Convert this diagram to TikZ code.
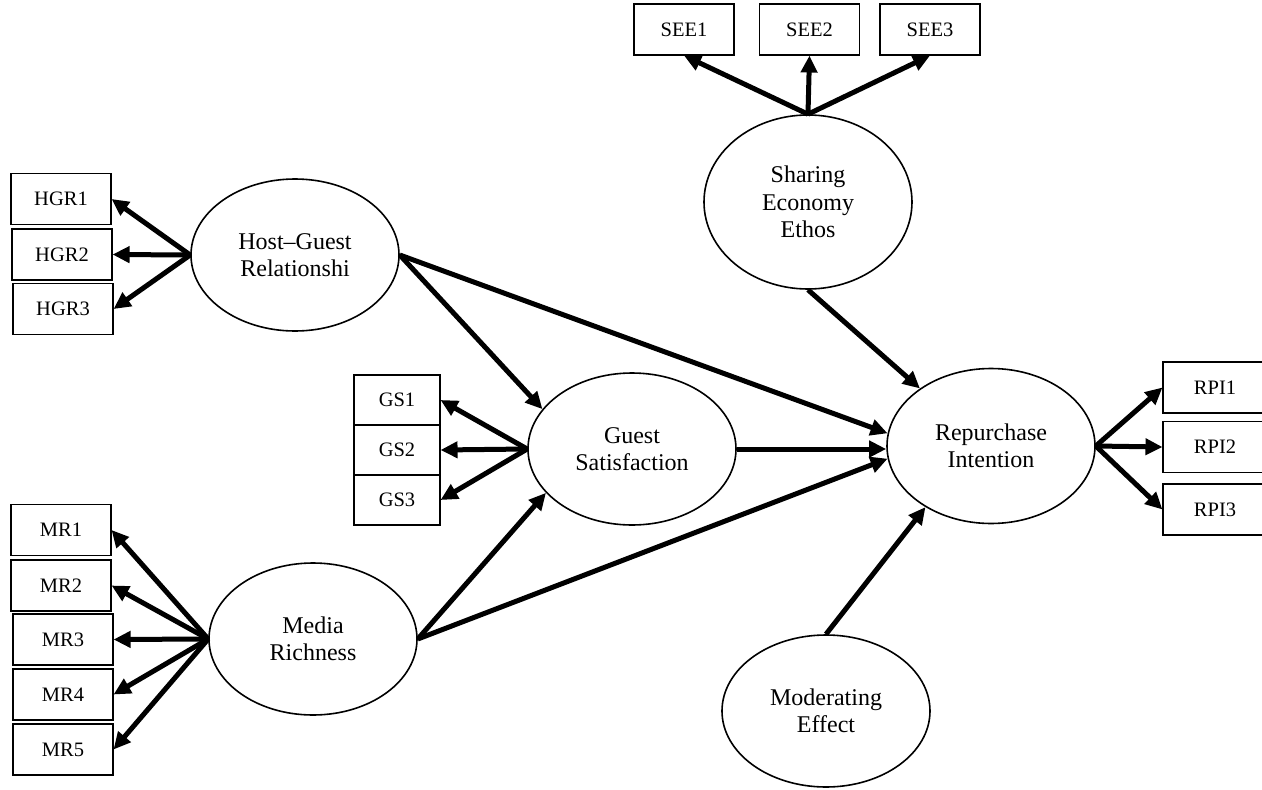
\documentclass[tikz,border=0pt]{standalone}
\usepackage{fontspec}
\setmainfont{Liberation Serif}
\usetikzlibrary{shapes.geometric,arrows.meta}

\begin{document}
\begin{tikzpicture}[x=1pt,y=-1pt,
        latent/.style={draw, ellipse, line width=1.6pt, minimum width=208pt, minimum height=152pt,
            inner sep=0pt, align=center, font=\fontsize{24}{27.5}\selectfont},
        indicator/.style={draw, rectangle, line width=1.1pt, minimum width=100pt, minimum height=51pt,
            inner sep=0pt, font=\fontsize{20.5}{24}\selectfont},
        effect/.style={line width=5pt, -{Triangle[length=17pt,width=16pt]}}]

        \useasboundingbox (0,0) rectangle (1262,790);

        \node[latent] (hgr) at (295,255) {Host--Guest\\Relationshi};
        \node[latent, minimum height=174pt] (see) at (808,202) {Sharing\\Economy\\Ethos};
        \node[latent] (gs) at (632,449) {Guest\\Satisfaction};
        \node[latent, minimum height=155pt] (rp) at (991,446) {Repurchase\\Intention};
        \node[latent] (mr) at (313,639) {Media\\Richness};
        \node[latent] (mod) at (826,711) {Moderating\\Effect};

        \foreach \i/\x/\y in {1/61/199, 2/62/254.5, 3/63/309}{
            \node[indicator] (hgr\i) at (\x,\y) {HGR\i};
            \draw[effect] (hgr.west) -- (hgr\i.east);
        };

        \foreach \i/\x in {1/684, 2/809.5, 3/930}{
            \node[indicator] (see\i) at (\x,29.5) {SEE\i};
            \draw[effect] (see.north) -- (see\i.south);
        };

        \foreach \i/\y in {1/400, 2/450, 3/500}{
            \node[indicator, minimum width=86pt, minimum height=50pt] (gs\i) at (397,\y) {GS\i};
            \draw[effect] (gs.west) -- (gs\i.east);
        };

        \foreach \i/\y in {1/387.5, 2/447, 3/509.5}{
            \node[indicator, minimum width=104pt] (rpi\i) at (1215,\y) {RPI\i};
            \draw[effect] (rp.east) -- (rpi\i.west);
        };

        \foreach \i/\x/\y in {1/61/530, 2/61/585.5, 3/63/639.5, 4/63/694.5, 5/63/749.5}{
            \node[indicator] (mr\i) at (\x,\y) {MR\i};
            \draw[effect] (mr.west) -- (mr\i.east);
        };

        \draw[effect] (hgr.east) -- (gs.156);
        \draw[effect] (hgr.east) -- (rp.173);
        \draw[effect] (gs.east) -- (rp.west |- gs.east);
        \draw[effect] (mr.east) -- (gs.207);
        \draw[effect] (mr.east) -- (rp.187);
        \draw[effect] (see.south) -- (rp.141);
        \draw[effect] (mod.north) -- (rp.223);

    \end{tikzpicture}
\end{document}
